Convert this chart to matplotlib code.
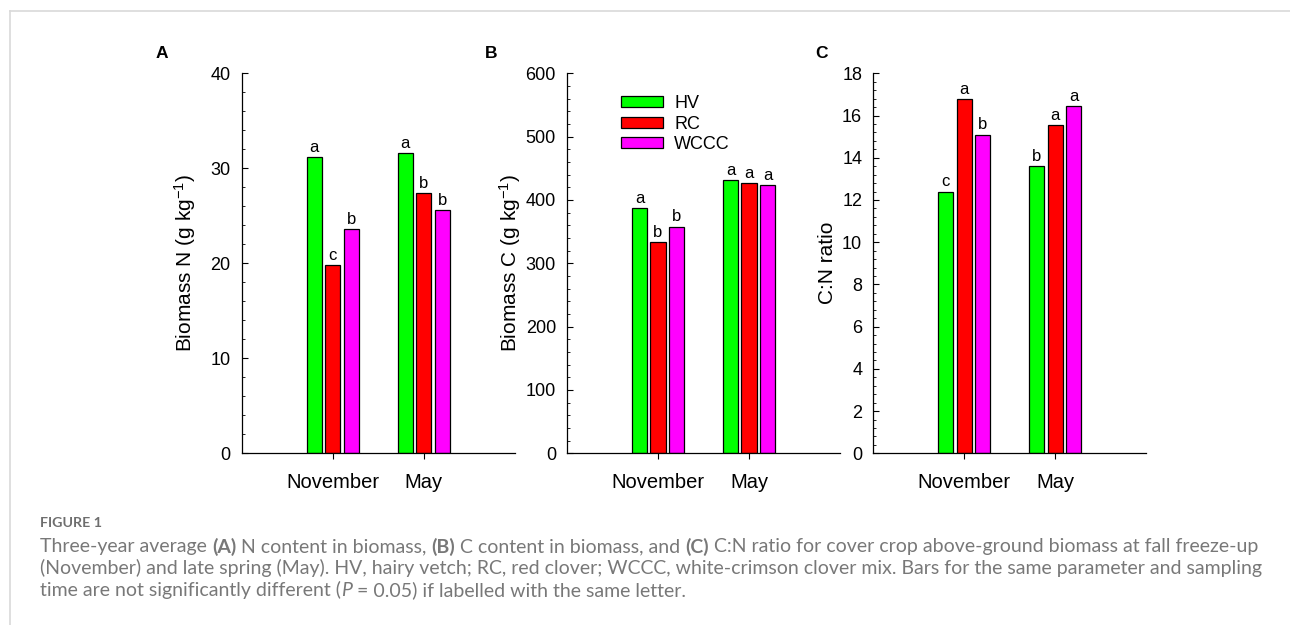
import matplotlib
matplotlib.use("Agg")
import matplotlib.pyplot as plt
from matplotlib.lines import Line2D
from matplotlib.patches import Patch
from matplotlib.ticker import MultipleLocator
import numpy as np

plt.rcParams['font.family'] = ['Liberation Sans', 'DejaVu Sans']
plt.rcParams['mathtext.fontset'] = 'custom'
plt.rcParams['mathtext.rm'] = 'Liberation Sans'
plt.rcParams['mathtext.it'] = 'Liberation Sans:italic'
plt.rcParams['mathtext.bf'] = 'Liberation Sans:bold'

# data
months = ['November', 'May']
crops = ['HV', 'RC', 'WCCC']
colors = ['#00ff00', '#ff0000', '#ff00ff']

hv_n = [31.2, 31.6]
rc_n = [19.8, 27.4]
wccc_n = [23.6, 25.6]
hv_n_let = ['a', 'a']
rc_n_let = ['c', 'b']
wccc_n_let = ['b', 'b']

hv_c = [387, 431]
rc_c = [334, 427]
wccc_c = [358, 423]
hv_c_let = ['a', 'a']
rc_c_let = ['b', 'a']
wccc_c_let = ['b', 'a']

hv_cn = [12.4, 13.6]
rc_cn = [16.8, 15.55]
wccc_cn = [15.1, 16.45]
hv_cn_let = ['c', 'b']
rc_cn_let = ['a', 'a']
wccc_cn_let = ['b', 'a']

panels = [
    dict(tag='A', vals=[hv_n, rc_n, wccc_n], lets=[hv_n_let, rc_n_let, wccc_n_let],
         ylim=40, major=10, minor=2, ylabel='Biomass N (g kg$^{-1}$)',
         left=241.7, lab_x=-0.16, tag_x=161.5),
    dict(tag='B', vals=[hv_c, rc_c, wccc_c], lets=[hv_c_let, rc_c_let, wccc_c_let],
         ylim=600, major=100, minor=20, ylabel='Biomass C (g kg$^{-1}$)',
         left=567.0, lab_x=-0.16, tag_x=491.0),
    dict(tag='C', vals=[hv_cn, rc_cn, wccc_cn], lets=[hv_cn_let, rc_cn_let, wccc_cn_let],
         ylim=18, major=2, minor=0.4, ylabel='C:N ratio',
         left=873.3, lab_x=-0.133, tag_x=821.5),
]

W, H = 1290, 625
fig = plt.figure(figsize=(W / 100, H / 100), dpi=100)

x = np.arange(1, len(months) + 1)
bw = 0.165
offs = [-0.203, 0, 0.203]

for p in panels:
    ax = fig.add_axes([p['left'] / W, 1 - 453.3 / H, 273 / W, 380 / H])
    for vals, lets, c, off in zip(p['vals'], p['lets'], colors, offs):
        ax.bar(x + off, vals, width=bw, color=c, edgecolor='black', linewidth=0.9, zorder=2)
        for xi, v, l in zip(x + off, vals, lets):
            ax.annotate(l, (xi, v), xytext=(0, 1.5), textcoords='offset points',
                        ha='center', va='bottom', fontsize=12)
    ax.set_xlim(0, 3)
    ax.set_ylim(0, p['ylim'])
    ax.set_xticks(x)
    ax.set_xticklabels(months, fontsize=14.5)
    ax.yaxis.set_major_locator(MultipleLocator(p['major']))
    ax.yaxis.set_minor_locator(MultipleLocator(p['minor']))
    ax.tick_params(axis='y', which='major', direction='in', length=4.2, width=0.8,
                   labelsize=13, pad=8)
    ax.tick_params(axis='y', which='minor', direction='in', length=2.4, width=0.6)
    ax.tick_params(axis='x', direction='out', length=4.3, width=0.8, pad=10)
    for s in ['top', 'right']:
        ax.spines[s].set_visible(False)
    for s in ['left', 'bottom']:
        ax.spines[s].set_linewidth(0.9)
    ax.set_ylabel(p['ylabel'], fontsize=15)
    ax.yaxis.set_label_coords(p['lab_x'], 0.5)
    fig.text(p['tag_x'] / W, 1 - 54 / H, p['tag'], fontsize=12.5, weight='bold',
             ha='center', va='center')
    if p['tag'] == 'B':
        handles = [Patch(facecolor=c, edgecolor='black', linewidth=0.9) for c in colors]
        fig.legend(handles, crops, loc='upper left', bbox_to_anchor=(621 / W, 1 - 95 / H),
                   frameon=False, fontsize=13, handlelength=2.3, handleheight=0.55,
                   handletextpad=0.65, labelspacing=0.2, borderpad=0, borderaxespad=0)

# frame lines
fig.add_artist(Line2D([9.5 / W, 1], [1 - 11 / H, 1 - 11 / H], transform=fig.transFigure,
                      color='#d9d9d9', lw=1.2))
fig.add_artist(Line2D([9.5 / W, 9.5 / W], [0, 1 - 11 / H], transform=fig.transFigure,
                      color='#d9d9d9', lw=1.2))

# caption
cap_color = '#787878'
cap_font = ['Lato', 'DejaVu Sans']
cap_size = 14.0
fig.text(40 / W, 1 - 523 / H, 'FIGURE 1', fontsize=10.3, color='#6e6e6e', weight='bold',
         family=cap_font, va='center')

cap_lines = [
    [('Three-year average ', 'normal', 'normal'), ('(A)', 'bold', 'normal'),
     (' N content in biomass, ', 'normal', 'normal'), ('(B)', 'bold', 'normal'),
     (' C content in biomass, and ', 'normal', 'normal'), ('(C)', 'bold', 'normal'),
     (' C:N ratio for cover crop above-ground biomass at fall freeze-up', 'normal', 'normal')],
    [('(November) and late spring (May). HV, hairy vetch; RC, red clover; WCCC, '
      'white-crimson clover mix. Bars for the same parameter and sampling', 'normal', 'normal')],
    [('time are not significantly different (', 'normal', 'normal'), ('P', 'normal', 'italic'),
     (' = 0.05) if labelled with the same letter.', 'normal', 'normal')],
]
cap_y = [546.7, 568.3, 590.0]

renderer = fig.canvas.get_renderer()
for segs, yy in zip(cap_lines, cap_y):
    xpos = 40 / W
    for txt, wt, st in segs:
        t = fig.text(xpos, 1 - yy / H, txt, fontsize=cap_size, color=cap_color,
                     weight=wt, style=st, family=cap_font, va='center')
        bb = t.get_window_extent(renderer=renderer)
        xpos = bb.x1 / W

fig.savefig('out.png', dpi=100)
